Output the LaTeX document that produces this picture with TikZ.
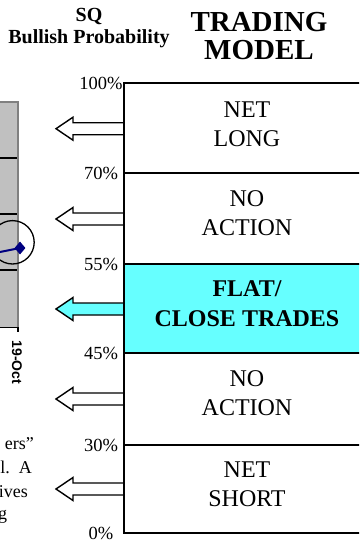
\documentclass[tikz,border=0pt]{standalone}
\usepackage{fontspec}
\setmainfont{Liberation Serif}
\newfontfamily\arialfont{Liberation Sans}
\usetikzlibrary{shapes.geometric}
\definecolor{cyanfill}{HTML}{66FFFF}
\definecolor{chartgray}{HTML}{C0C0C0}
\definecolor{chartedge}{HTML}{808080}
\definecolor{navyline}{HTML}{000080}
\begin{document}
\begin{tikzpicture}[x=1pt,y=-1pt,
  tbl/.style={line width=1.8pt},
  hol/.style={line width=1.4pt, line join=miter},
  pct/.style={font=\fontsize{18.5}{20}\selectfont, inner sep=0pt, anchor=center},
  rowtxt/.style={font=\fontsize{24}{29}\selectfont, align=center, inner sep=0pt},
  rowbold/.style={rowtxt, font=\bfseries\fontsize{24}{30}\selectfont},
  para/.style={font=\fontsize{18}{20}\selectfont, inner sep=0pt},
  grid/.style={line width=1.4pt, black},
  marker/.style={diamond, fill=navyline, inner sep=0pt, minimum width=11pt, minimum height=13pt}
]
\useasboundingbox (0,0) rectangle (359,541);
\clip (0,0) rectangle (359,541);

% headings
\node[font=\bfseries\fontsize{20}{22}\selectfont, align=center, inner sep=0pt] (sq) at (89,28.5) {SQ\\Bullish Probability};
\node[font=\bfseries\fontsize{29}{28}\selectfont, align=center, inner sep=0pt] (title) at (259,36.4) {TRADING\\MODEL};

% chart fragment
\fill[chartgray] (-5,102) rectangle (18,327);
\draw[chartedge, line width=1.4pt] (-5,102) -- (18,102) -- (18,327);
\foreach \yy in {158,214,270} \draw[grid] (-5,\yy) -- (17.3,\yy);
\draw[grid] (-5,327.5) -- (18,327.5) -- (18,331.5);
\draw[line width=1.3pt] (12.5,242.3) circle [radius=21.7];
\node[marker] (pt) at (20,248) {};
\coordinate (prev) at (-5,253);
\draw[navyline, line width=2pt] (prev) -- (pt.center);
\node[font=\arialfont\bfseries\fontsize{14}{16}\selectfont, rotate=-90, inner sep=0pt] (date) at (17,362.5) {19-Oct};

% paragraph fragments
\node[para, anchor=base east] (t1) at (34,449) {ers”};
\node[para, anchor=base east] (t2) at (32,473) {l.\ \ A};
\node[para, anchor=base east] (t3) at (28,497) {ives};
\node[para, anchor=base west] (t4) at (-2,519) {g};

% table rows
\fill[cyanfill] (124,264) rectangle (400,353);
\draw[tbl] (400,83) -- (124,83) -- (124,533) -- (400,533);
\foreach \yy in {173,264,353,445} \draw[tbl] (124,\yy) -- (400,\yy);

% percent labels
\node[pct] (p100) at (101,83.5) {100\%};
\node[pct] (p70) at (101,173.5) {70\%};
\node[pct] (p55) at (101,264.5) {55\%};
\node[pct] (p45) at (101,353.5) {45\%};
\node[pct] (p30) at (101,445.5) {30\%};
\node[pct] (p0) at (101,533.5) {0\%};

% row texts
\node[rowtxt] (r1) at (247,124.2) {NET\\LONG};
\node[rowtxt] (r2) at (247,213) {NO\\ACTION};
\node[rowbold] (r3) at (247,304) {FLAT/\\CLOSE TRADES};
\node[rowtxt] (r4) at (247,393) {NO\\ACTION};
\node[rowtxt] (r5) at (247,484.5) {NET\\SHORT};

% arrows
\foreach \cy/\fc [count=\i] in {128.7/white, 219/white, 309/cyanfill, 399/white, 489/white} {
  \coordinate (a\i) at (124,\cy);
  \draw[hol, fill=\fc] (a\i) ++(0,-6) -- ++(-51,0) -- ++(0,-5.5) -- ++(-17,11.5) -- ++(17,11.5) -- ++(0,-5.5) -- ++(51,0);
}
\draw[tbl] (124,83) -- (124,533);
\end{tikzpicture}
\end{document}
